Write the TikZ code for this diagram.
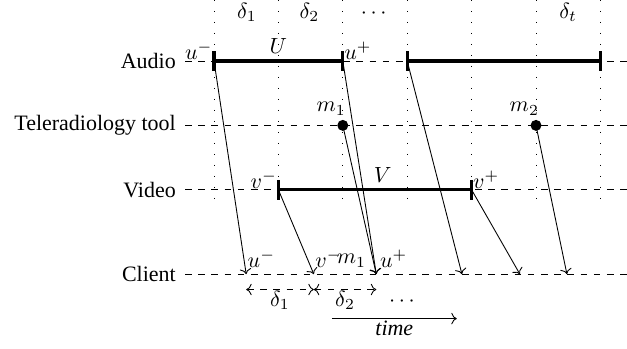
\documentclass[tikz,border=0pt]{standalone}
\usepackage{fontspec}
\setmainfont{Liberation Serif}
\usetikzlibrary{
    arrows.meta,
    positioning,
    calc,
}

\begin{document}
\begin{tikzpicture}[
    x=1.03cm, y=1.03cm,
    lane/.style={dashed},
    lanelabel/.style={anchor=east, inner sep=4pt},
    slot/.style={dash pattern=on 0.4pt off 4.6pt},
    span/.style={line width=1.4pt},
    tickmark/.style={line width=1.4pt},
    msg/.style={-{To}},
    tag/.style={inner sep=0.5pt},
    event/.style={circle, fill, inner sep=0pt, minimum size=5pt}
]
    \useasboundingbox (-3.323,0.947) rectangle (6.413,-4.457);

    % time slots
    \foreach \i in {0,...,6}
        \draw[slot] (\i,0.947) -- (\i,-2.28);
    \node[tag] (d1)  at (0.51,0.76) {$\delta_1$};
    \node[tag] (d2)  at (1.48,0.76) {$\delta_2$};
    \node[tag] (dd)  at (2.48,0.74) {$\cdots$};
    \node[tag] (dt)  at (5.50,0.76) {$\delta_t$};

    % lanes
    \node[lanelabel] (audio)  at (-0.45,0)     {Audio};
    \node[lanelabel] (tool)   at (-0.45,-1)    {Teleradiology tool};
    \node[lanelabel] (video)  at (-0.45,-2)    {Video};
    \node[lanelabel] (client) at (-0.45,-3.31) {Client};
    \coordinate (audioend)  at (6.413,0);
    \coordinate (toolend)   at (6.413,-1);
    \coordinate (videoend)  at (6.413,-2);
    \coordinate (clientend) at (6.413,-3.31);
    \draw[lane] (audio.east)  -- (audioend);
    \draw[lane] (tool.east)   -- (toolend);
    \draw[lane] (video.east)  -- (videoend);
    \draw[lane] (client.east) -- (clientend);

    % streams
    \coordinate (um) at (0,0);
    \coordinate (up) at (2,0);
    \coordinate (a3) at (3,0);
    \coordinate (a6) at (6,0);
    \coordinate (vm) at (1,-2);
    \coordinate (vp) at (4,-2);
    \draw[span] (um) -- node[above, inner sep=2.5pt] (U) {$U$} (up);
    \draw[span] (a3) -- (a6);
    \draw[span] (vm) -- node[pos=0.54, above, inner sep=2.5pt] (V) {$V$} (vp);
    \foreach \p in {um,up,a3,a6,vm,vp}
        \draw[tickmark] ([yshift=4.5pt]\p) -- ([yshift=-4.5pt]\p);
    \node[tag, anchor=south east] (uml) at (um) {$u^-$};
    \node[tag, anchor=south west] (upl) at (up) {$u^+$};
    \node[tag, anchor=south east] (vml) at (vm) {$v^-$};
    \node[tag, anchor=south west] (vpl) at (vp) {$v^+$};

    % tool events
    \node[event] (m1) at (2,-1) {};
    \node[event] (m2) at (5,-1) {};
    \node[tag, anchor=south east] (m1l) at ([xshift=2pt,yshift=4pt]m1.center) {$m_1$};
    \node[tag, anchor=south east] (m2l) at ([xshift=2pt,yshift=4pt]m2.center) {$m_2$};

    % arrivals at the client
    \coordinate (c1) at (0.50,-3.31);
    \coordinate (c2) at (1.55,-3.31);
    \coordinate (c3) at (2.52,-3.31);
    \coordinate (c4) at (3.85,-3.31);
    \coordinate (c5) at (4.75,-3.31);
    \coordinate (c6) at (5.48,-3.31);
    \draw[msg] (um) -- (c1);
    \draw[msg] (vm) -- (c2);
    \draw[msg] (up) -- (c3);
    \draw[msg] (m1.center) -- (c3);
    \draw[msg] (a3) -- (c4);
    \draw[msg] (vp) -- (c5);
    \draw[msg] (m2.center) -- (c6);
    \node[tag, anchor=south west] (c1l) at ([yshift=2.5pt]c1) {$u^-$};
    \node[tag, anchor=south west] (c2l) at ([yshift=2.5pt]c2) {$v^-$};
    \node[tag, anchor=south east] (c3l) at ([xshift=-4pt,yshift=2.5pt]c3) {$m_1$};
    \node[tag, anchor=south west] (c4l) at ([xshift=1pt,yshift=2.5pt]c3) {$u^+$};

    % delays
    \draw[lane, {To}-{To}] ([yshift=-7pt]c1) -- node[below, inner sep=0.5pt] (e1) {$\delta_1$} ([yshift=-7pt]c2);
    \draw[lane, {To}-{To}] ([yshift=-7pt]c2) -- node[below, inner sep=0.5pt] (e2) {$\delta_2$} ([yshift=-7pt]c3);
    \node (more) at (2.92,-3.74) {$\cdots$};

    % time axis
    \coordinate (t0) at (1.83,-4.0);
    \coordinate (t1) at (3.77,-4.0);
    \draw[msg] (t0) -- node[below, inner sep=1pt] (time) {\textit{time}} (t1);
\end{tikzpicture}
\end{document}
